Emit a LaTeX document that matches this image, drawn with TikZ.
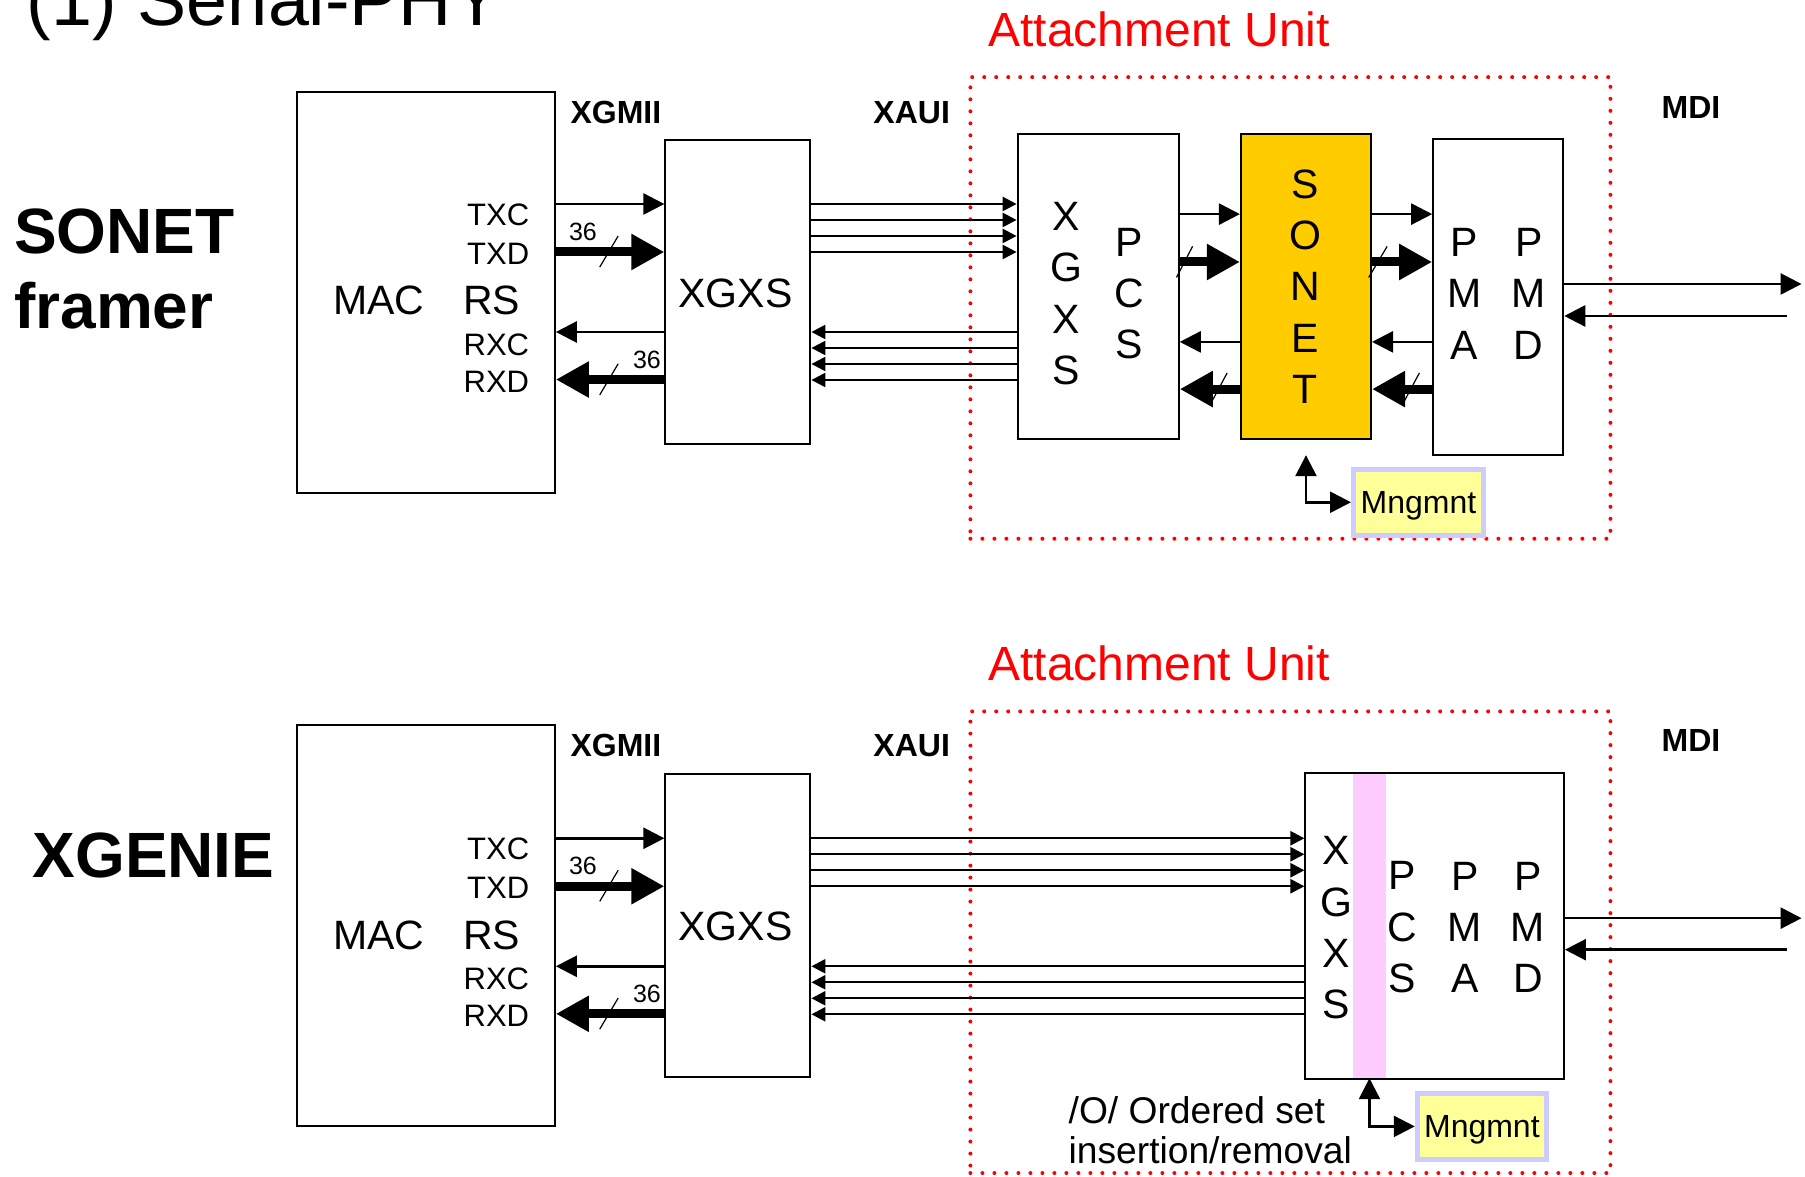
\documentclass[tikz,border=0pt]{standalone}
\usepackage{fontspec}
\setmainfont{Liberation Sans}
\usetikzlibrary{arrows.meta,calc}
\definecolor{sonetY}{HTML}{FFCC00}
\definecolor{mgY}{HTML}{FFFF99}
\definecolor{mgB}{HTML}{CCCCFF}
\definecolor{pinkS}{HTML}{FFCCFF}
\definecolor{redD}{HTML}{FF0000}
\newcommand\pxu{0.5756pt}
\begin{document}
\begin{tikzpicture}[x=0.5756pt,y=-0.5756pt,
  box/.style={draw,line width=1pt,inner sep=0pt},
  aubox/.style={draw=redD,line width=2pt,dash pattern=on 0pt off 6pt,line cap=round,inner sep=0pt},
  mgbox/.style={draw=mgB,fill=mgY,line width=2.5pt,inner sep=0pt,text depth=0pt,text height=11.5pt,font=\fontsize{16}{19}\selectfont},
  tarr/.style={line width=1.3pt,-{Triangle[length=10.5pt,width=10.5pt]}},
  Tarr/.style={line width=4.5pt,-{Triangle[length=16.5pt,width=17pt]}},
  lane/.style={line width=1.2pt,-{Triangle[length=7pt,width=7pt]}},
  mgarr/.style={line width=1.3pt,{Triangle[length=10.5pt,width=10.5pt]}-{Triangle[length=10.5pt,width=10.5pt]}},
  slashl/.style={line width=0.6pt},
  sig/.style={font=\fontsize{15.5}{18}\selectfont,inner sep=0pt,anchor=base east},
  mid/.style={font=\fontsize{20.5}{25.7}\selectfont,inner sep=0pt,align=center},
  bl/.style={font=\bfseries\fontsize{16}{19}\selectfont,inner sep=0pt},
  big/.style={font=\bfseries\fontsize{32}{38}\selectfont,inner sep=0pt,anchor=base west},
  num/.style={font=\fontsize{12.5}{15}\selectfont,inner sep=0pt},
  aut/.style={font=\fontsize{24}{29}\selectfont,text=redD,inner sep=0pt,anchor=base},
]
\useasboundingbox (0,0) rectangle (1568,1022);

% ---------- titles ----------
\node[font=\fontsize{36.8}{40}\selectfont,anchor=base west,inner sep=0pt] (title) at (23,22) {(1) Serial-PHY};
\node[big] (sonetlbl) at (12,220.6) {SONET};
\node[big] (framerlbl) at (12,285.8) {framer};
\node[big] (xgenielbl) at (28,762) {XGENIE};

% ================= TOP PANEL =================
\node[aubox,minimum width=556*\pxu,minimum height=401*\pxu] (au1) at (1121,267.5) {};
\node[aut] (aut1) at (1007,40) {Attachment Unit};

\node[box,minimum width=224*\pxu,minimum height=348*\pxu] (mac1) at (370,254) {};
\node[box,minimum width=126*\pxu,minimum height=264*\pxu] (xgxs1) at (641,254) {};
\node[box,minimum width=140*\pxu,minimum height=265*\pxu] (pcs1) at (954,248.5) {};
\node[box,fill=sonetY,minimum width=113*\pxu,minimum height=265*\pxu] (sonet1) at (1134.5,248.5) {};
\node[box,minimum width=113*\pxu,minimum height=274*\pxu] (pma1) at (1301.5,258) {};

\node[mid,anchor=base] (mac1t) at (329,273.6) {MAC};
\node[mid,anchor=base] (rs1t) at (427,273.6) {RS};
\node[sig] (txc1) at (460,196) {TXC};
\node[sig] (txd1) at (460,229.6) {TXD};
\node[sig] (rxc1) at (460,309) {RXC};
\node[sig] (rxd1) at (460,340.8) {RXD};
\node[mid] (xgxs1t) at (639,255) {XGXS};
\node[mid] (xg1t) at (926,255) {X\\G\\X\\S};
\node[mid] (pcs1t) at (981,255) {P\\C\\S};
\node[mid] (sonet1t) at (1134,249) {S\\O\\N\\E\\T};
\node[mid] (pma1t) at (1272,255) {P\\M\\A};
\node[mid] (pmd1t) at (1328,255) {P\\M\\D};

\node[bl] (xgmii1) at (535,98) {XGMII};
\node[bl] (xaui1) at (792,98) {XAUI};
\node[bl] (mdi1) at (1469,93) {MDI};

% MAC <-> XGXS
\draw[tarr] (mac1.east |- 0,177.2) -- (xgxs1.west |- 0,177.2);
\draw[Tarr] (mac1.east |- 0,218.9) -- (xgxs1.west |- 0,218.9);
\draw[tarr] (xgxs1.west |- 0,288.4) -- (mac1.east |- 0,288.4);
\draw[Tarr] (xgxs1.west |- 0,329.7) -- (mac1.east |- 0,329.7);
\draw[slashl] (537,205) -- (521,232);
\draw[slashl] (537,316) -- (521,343);
\node[num] (n36a) at (506.4,201.5) {36};
\node[num] (n36b) at (562,312.7) {36};

% XAUI lanes
\foreach \yy in {177.2,191.1,205,218.9}
  \draw[lane] (xgxs1.east |- 0,\yy) -- (pcs1.west |- 0,\yy);
\foreach \yy in {288.4,302.3,316.2,330.1}
  \draw[lane] (pcs1.west |- 0,\yy) -- (xgxs1.east |- 0,\yy);

% PCS <-> SONET <-> PMA
\draw[tarr] (pcs1.east |- 0,186) -- (sonet1.west |- 0,186);
\draw[Tarr] (pcs1.east |- 0,227.6) -- (sonet1.west |- 0,227.6);
\draw[tarr] (sonet1.west |- 0,297) -- (pcs1.east |- 0,297);
\draw[Tarr] (sonet1.west |- 0,338) -- (pcs1.east |- 0,338);
\draw[tarr] (sonet1.east |- 0,186) -- (pma1.west |- 0,186);
\draw[Tarr] (sonet1.east |- 0,227.6) -- (pma1.west |- 0,227.6);
\draw[tarr] (pma1.west |- 0,297) -- (sonet1.east |- 0,297);
\draw[Tarr] (pma1.west |- 0,338) -- (sonet1.east |- 0,338);
\draw[slashl] (1036,214) -- (1022,241);
\draw[slashl] (1205,214) -- (1189,241);
\draw[slashl] (1066,324) -- (1051,352);
\draw[slashl] (1233,324) -- (1218,352);

% MDI
\coordinate (mdiout1) at (1565,246.7);
\coordinate (mdiin1) at (1552.5,274.5);
\draw[tarr] (pma1.east |- mdiout1) -- (mdiout1);
\draw[tarr] (mdiin1) -- (pma1.east |- mdiin1);

% Mngmnt
\node[mgbox,minimum width=117.2*\pxu-2.5pt,minimum height=61.4*\pxu-2.5pt] (mg1) at (1232.2,436.3) {Mngmnt};
\draw[mgarr] ([yshift=-7.8pt]sonet1.south) |- (mg1.west);

% ================= BOTTOM PANEL =================
\node[aubox,minimum width=556*\pxu,minimum height=401*\pxu] (au2) at (1121,818.5) {};
\node[aut] (aut2) at (1007,591) {Attachment Unit};

\node[box,minimum width=224*\pxu,minimum height=348*\pxu] (mac2) at (370,804) {};
\node[box,minimum width=126*\pxu,minimum height=264*\pxu] (xgxs2) at (641,804) {};
\node[fill=pinkS,inner sep=0pt,minimum width=28.7*\pxu,minimum height=264*\pxu] (stripe2) at (1189.65,804.3) {};
\node[box,minimum width=224.6*\pxu,minimum height=265.4*\pxu] (phy2) at (1246.3,804.3) {};

\node[mid,anchor=base] (mac2t) at (329,824.6) {MAC};
\node[mid,anchor=base] (rs2t) at (427,824.6) {RS};
\node[sig] (txc2) at (460,747) {TXC};
\node[sig] (txd2) at (460,780.6) {TXD};
\node[sig] (rxc2) at (460,860) {RXC};
\node[sig] (rxd2) at (460,891.8) {RXD};
\node[mid] (xgxs2t) at (639,805) {XGXS};
\node[mid] (xg2t) at (1161,806) {X\\G\\X\\S};
\node[mid] (pcs2t) at (1218,805.6) {P\\C\\S};
\node[mid] (pma2t) at (1272.6,805.6) {P\\M\\A};
\node[mid] (pmd2t) at (1327.4,805.6) {P\\M\\D};

\node[bl] (xgmii2) at (535,648) {XGMII};
\node[bl] (xaui2) at (792,648) {XAUI};
\node[bl] (mdi2) at (1469,643) {MDI};

\draw[tarr] (mac2.east |- 0,728.2) -- (xgxs2.west |- 0,728.2);
\draw[Tarr] (mac2.east |- 0,769.9) -- (xgxs2.west |- 0,769.9);
\draw[tarr] (xgxs2.west |- 0,839.4) -- (mac2.east |- 0,839.4);
\draw[Tarr] (xgxs2.west |- 0,880.7) -- (mac2.east |- 0,880.7);
\draw[slashl] (537,756) -- (521,783);
\draw[slashl] (537,867) -- (521,894);
\node[num] (n36c) at (506.4,752.5) {36};
\node[num] (n36d) at (562,863.7) {36};

\foreach \yy in {728.2,742.1,756,769.9}
  \draw[lane] (xgxs2.east |- 0,\yy) -- (phy2.west |- 0,\yy);
\foreach \yy in {839.4,853.3,867.2,881.1}
  \draw[lane] (phy2.west |- 0,\yy) -- (xgxs2.east |- 0,\yy);

\coordinate (mdiout2) at (1565,797.6);
\coordinate (mdiin2) at (1552.5,825);
\draw[tarr] (phy2.east |- mdiout2) -- (mdiout2);
\draw[tarr] (mdiin2) -- (phy2.east |- mdiin2);

\node[mgbox,minimum width=116.6*\pxu-2.5pt,minimum height=61*\pxu-2.5pt] (mg2) at (1287.3,978.5) {Mngmnt};
\draw[mgarr] (stripe2.south) |- (mg2.west);

\node[font=\fontsize{18.6}{20.7}\selectfont,inner sep=0pt,anchor=base west] (oset1) at (928,975.6) {/O/ Ordered set};
\node[font=\fontsize{18.6}{20.7}\selectfont,inner sep=0pt,anchor=base west] (oset2) at (928,1010.5) {insertion/removal};
\end{tikzpicture}
\end{document}
